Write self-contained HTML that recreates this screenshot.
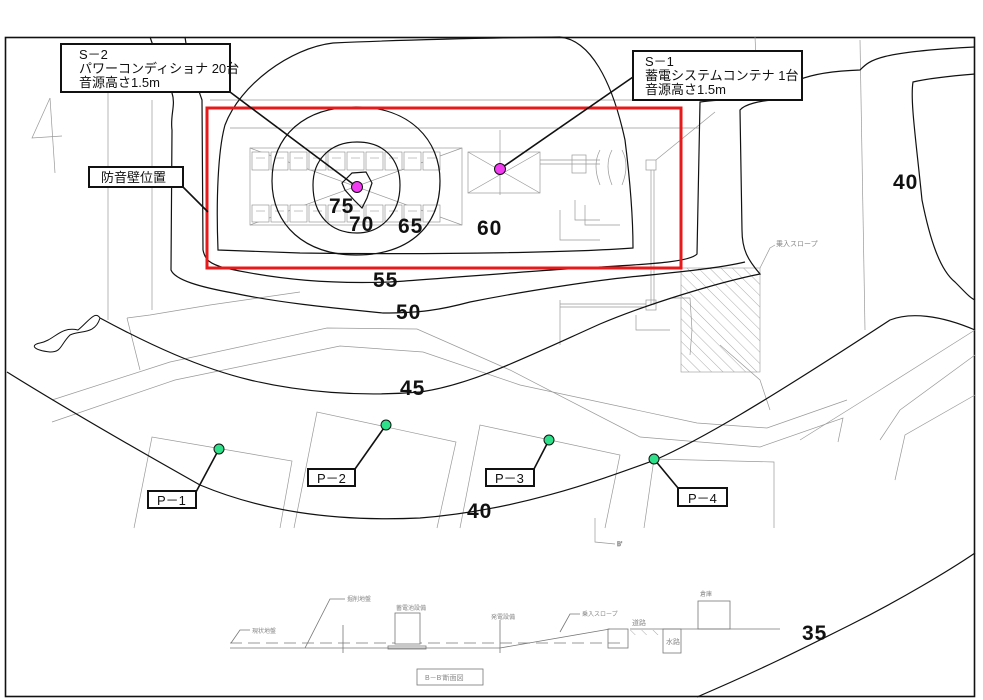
<!DOCTYPE html>
<html><head><meta charset="utf-8"><style>
html,body{margin:0;padding:0;background:#fff;}
svg{display:block;}
.c{fill:none;stroke:#111;stroke-width:1.2;}
.g{fill:none;stroke:#999;stroke-width:0.7;}
.gd{fill:none;stroke:#777;stroke-width:0.8;}
.lb{font-family:"Liberation Sans","Noto Sans CJK JP",sans-serif;font-size:13px;fill:#111;}
.big{font-family:"Liberation Sans",sans-serif;font-weight:bold;font-size:21px;fill:#111;letter-spacing:1px;}
.sm{font-family:"Liberation Sans","Noto Sans CJK JP",sans-serif;font-size:6px;fill:#888;}
</style></head><body>
<svg width="983" height="700" viewBox="0 0 983 700" xmlns="http://www.w3.org/2000/svg">
<rect x="0" y="0" width="983" height="700" fill="#fff"/>
<!-- frame -->
<rect x="5.5" y="37.5" width="969" height="659" fill="none" stroke="#111" stroke-width="1.6"/>

<!-- background CAD gray lines -->
<g class="g">
<line x1="108" y1="93" x2="108" y2="320"/>
<line x1="152" y1="100" x2="152" y2="310"/>
<polyline points="50,98 32,138 62,136"/>
<line x1="50" y1="98" x2="55" y2="173"/>
<polyline points="127,318 140,370"/>
<polyline points="52,400 170,362 327,328 417,329 510,370 640,437 760,447 843,418 838,442"/>
<polyline points="52,422 175,380 340,346 423,352 520,385 697,423 767,428 847,400"/>
<polyline points="127,318 150,315 210,305 300,292"/>
<polyline points="134,528 152,437 292,461 280,528"/>
<polyline points="294,528 317,412 456,442 437,528"/>
<polyline points="460,528 480,425 620,455 605,528"/>
<polyline points="644,528 654,459 774,462 774,528"/>
<polyline points="595,518 595,542 615,544"/>
<text x="617" y="546" class="sm">B'</text>
<line x1="860" y1="40" x2="865" y2="330"/>
<line x1="755" y1="37" x2="758" y2="100"/>
<polyline points="975,330 880,390 800,440"/>
<polyline points="975,355 900,410 880,440"/>
<polyline points="975,395 905,435 895,480"/>
<polyline points="720,345 760,380 770,410"/>
<line x1="210" y1="100" x2="690" y2="100"/>
<line x1="230" y1="128" x2="700" y2="128"/>
<rect x="250" y="148" width="212" height="77"/>
<line x1="250" y1="148" x2="462" y2="225"/>
<line x1="250" y1="225" x2="462" y2="148"/>
<rect x="468" y="152" width="72" height="41"/>
<line x1="468" y1="152" x2="540" y2="193"/>
<line x1="468" y1="193" x2="540" y2="152"/>
<line x1="540" y1="160" x2="600" y2="160"/>
<line x1="540" y1="164" x2="600" y2="164"/>
<rect x="572" y="155" width="14" height="18"/>
<path d="M600,150 q-8,15 0,35 M612,150 q-8,15 0,35 M622,150 q8,15 0,35"/>
<rect x="646" y="160" width="10" height="10"/>
<line x1="651" y1="170" x2="651" y2="305"/>
<line x1="654" y1="170" x2="654" y2="305"/>
<line x1="656" y1="160" x2="715" y2="112"/>
<rect x="646" y="300" width="10" height="10"/>
<line x1="560" y1="307" x2="646" y2="307"/>
<line x1="560" y1="304" x2="646" y2="304"/>
<polyline points="560,300 560,345"/>
<polyline points="636,315 636,330 670,330"/>
<polyline points="672,298 690,298 692,330 690,355"/>
<line x1="500" y1="130" x2="500" y2="195"/>
<polyline points="585,205 585,225 620,225"/>
<polyline points="560,210 560,240 600,240"/>
<polyline points="575,200 575,220 600,220"/>
</g>
<g stroke="#888" stroke-width="0.6" fill="#fff">
<rect x="252" y="152" width="17" height="18"/><rect x="271" y="152" width="17" height="18"/><rect x="290" y="152" width="17" height="18"/><rect x="309" y="152" width="17" height="18"/><rect x="328" y="152" width="17" height="18"/><rect x="347" y="152" width="17" height="18"/><rect x="366" y="152" width="17" height="18"/><rect x="385" y="152" width="17" height="18"/><rect x="404" y="152" width="17" height="18"/><rect x="423" y="152" width="17" height="18"/>
<rect x="252" y="205" width="17" height="17"/><rect x="271" y="205" width="17" height="17"/><rect x="290" y="205" width="17" height="17"/><rect x="309" y="205" width="17" height="17"/><rect x="328" y="205" width="17" height="17"/><rect x="347" y="205" width="17" height="17"/><rect x="366" y="205" width="17" height="17"/><rect x="385" y="205" width="17" height="17"/><rect x="404" y="205" width="17" height="17"/><rect x="423" y="205" width="17" height="17"/>
</g>
<g stroke="#888" stroke-width="0.5">
<line x1="256" y1="158" x2="265" y2="158"/><line x1="275" y1="158" x2="284" y2="158"/><line x1="294" y1="158" x2="303" y2="158"/><line x1="313" y1="158" x2="322" y2="158"/><line x1="332" y1="158" x2="341" y2="158"/><line x1="351" y1="158" x2="360" y2="158"/><line x1="370" y1="158" x2="379" y2="158"/><line x1="389" y1="158" x2="398" y2="158"/><line x1="408" y1="158" x2="417" y2="158"/><line x1="427" y1="158" x2="436" y2="158"/>
<line x1="256" y1="211" x2="265" y2="211"/><line x1="275" y1="211" x2="284" y2="211"/><line x1="294" y1="211" x2="303" y2="211"/><line x1="313" y1="211" x2="322" y2="211"/><line x1="332" y1="211" x2="341" y2="211"/><line x1="351" y1="211" x2="360" y2="211"/><line x1="370" y1="211" x2="379" y2="211"/><line x1="389" y1="211" x2="398" y2="211"/><line x1="408" y1="211" x2="417" y2="211"/><line x1="427" y1="211" x2="436" y2="211"/>
</g>
<!-- hatched slope -->
<defs><pattern id="h" width="8" height="8" patternUnits="userSpaceOnUse" patternTransform="rotate(-45)"><line x1="0" y1="0" x2="0" y2="8" stroke="#888" stroke-width="0.7"/></pattern></defs>
<rect x="681" y="268" width="79" height="104" fill="url(#h)" stroke="#999" stroke-width="0.6"/>
<polyline class="g" points="760,268 770,248 775,245"/>
<text x="776" y="246" class="sm" style="font-size:7px">乗入スロープ</text>

<!-- blob top-left -->
<path class="c" d="M100,318 C95,310 88,322 78,330 C60,326 55,340 40,343 C30,345 33,350 50,352 C62,352 60,345 70,335 C80,330 95,335 100,318" style="stroke-width:1"/>

<!-- contours -->
<path class="c" d="M342,183 L352,173 L366,172 L372,183 L367,198 L362,208 L354,200 L345,190 Z"/>
<path class="c" d="M357,142 C385,142 400,160 400,185 C400,215 380,233 357,233 C330,233 313,215 313,185 C313,160 330,142 357,142 Z"/>
<path class="c" d="M356,107 C410,107 440,140 440,181 C440,230 405,255 356,255 C305,255 272,225 272,181 C272,135 305,107 356,107 Z"/>
<path class="c" d="M560,37 C590,40 612,80 625,140 C630,180 633,220 633,248 C580,252 450,255 300,253 L218,250 C216,200 218,150 225,125 C240,85 290,48 333,43 C400,40 480,38 560,37"/>
<path class="c" d="M185,37 C188,60 195,80 202,100 L203,250 C205,260 210,264 225,268 C280,280 330,284 390,282 C450,278 540,270 600,267 C650,264 690,262 697,254 L700,102 C720,99 760,99 775,98 C785,85 800,72 860,70 C870,60 877,52 975,47"/>
<path class="c" d="M150,37 C158,60 165,80 172,93 C176,105 170,115 172,130 L171,270 C175,280 200,287 233,293 C280,303 333,308 383,313 C420,313 440,310 470,302 C530,290 600,280 630,277 C680,272 720,268 745,262"/>
<path class="c" d="M100,318 C150,345 200,368 250,380 C300,392 360,397 420,392 C470,385 520,360 600,324 C650,303 720,282 760,274 C748,260 742,250 742,230 L740,110 C745,104 760,101 773,100"/>
<path class="c" d="M975,74 C950,76 930,78 913,82 C910,100 916,140 922,200 C930,240 940,270 955,282 C965,292 970,298 975,300"/>
<path class="c" d="M7,372 C60,405 120,440 200,485 C260,510 330,522 420,518 C520,510 600,480 655,460 C700,440 760,405 890,320 C910,312 940,315 975,330"/>
<path class="c" d="M697,697 C760,670 800,650 850,625 C900,600 950,570 975,553"/>

<!-- red wall -->
<rect x="207" y="108" width="474" height="160" fill="none" stroke="#e8191a" stroke-width="3"/>
<line x1="207" y1="108" x2="681" y2="108" stroke="#e8191a" stroke-width="1"/>

<!-- contour labels -->
<text x="329" y="213" class="big">75</text>
<text x="349" y="231" class="big">70</text>
<text x="398" y="233" class="big">65</text>
<text x="477" y="235" class="big">60</text>
<text x="373" y="287" class="big">55</text>
<text x="396" y="319" class="big">50</text>
<text x="400" y="395" class="big">45</text>
<text x="467" y="518" class="big">40</text>
<text x="893" y="189" class="big">40</text>
<text x="802" y="640" class="big">35</text>

<!-- leaders -->
<g stroke="#111" stroke-width="1.6" fill="none">
<line x1="230" y1="92" x2="357" y2="187"/>
<line x1="633" y1="77" x2="500" y2="169"/>
<line x1="183" y1="187" x2="208" y2="212"/>
<line x1="196" y1="492" x2="219" y2="449"/>
<line x1="355" y1="469" x2="386" y2="425"/>
<line x1="534" y1="469" x2="549" y2="440"/>
<line x1="678" y1="488" x2="654" y2="459"/>
</g>
<circle cx="357" cy="187" r="5.5" fill="#f23cf2" stroke="#111" stroke-width="1"/>
<circle cx="500" cy="169" r="5.5" fill="#f23cf2" stroke="#111" stroke-width="1"/>
<g fill="#2ee08a" stroke="#111" stroke-width="1">
<circle cx="219" cy="449" r="5"/><circle cx="386" cy="425" r="5"/><circle cx="549" cy="440" r="5"/><circle cx="654" cy="459" r="5"/>
</g>

<!-- label boxes -->
<g fill="#fff" stroke="#111" stroke-width="2">
<rect x="61" y="44" width="169" height="48"/>
<rect x="89" y="167" width="94" height="20"/>
<rect x="633" y="51" width="169" height="49"/>
<rect x="148" y="491" width="48" height="17"/>
<rect x="308" y="469" width="47" height="17"/>
<rect x="486" y="469" width="48" height="17"/>
<rect x="678" y="488" width="49" height="18"/>
</g>
<text class="lb" x="79" y="59">S－2</text>
<text class="lb" x="79" y="73">パワーコンディショナ  20台</text>
<text class="lb" x="79" y="87">音源高さ1.5m</text>
<text class="lb" x="101" y="182">防音壁位置</text>
<text class="lb" x="645" y="66">S－1</text>
<text class="lb" x="645" y="80">蓄電システムコンテナ  1台</text>
<text class="lb" x="645" y="94">音源高さ1.5m</text>
<text class="lb" x="157" y="505">P－1</text>
<text class="lb" x="317" y="483">P－2</text>
<text class="lb" x="495" y="483">P－3</text>
<text class="lb" x="688" y="503">P－4</text>

<!-- section B-B' -->
<g class="gd">
<line x1="230" y1="643" x2="620" y2="643" stroke-dasharray="12,6"/>
<line x1="230" y1="648" x2="500" y2="648"/>
<rect x="395" y="613" width="25" height="31" fill="#fff"/>
<rect x="388" y="646" width="38" height="3"/>
<line x1="343" y1="625" x2="343" y2="653"/>
<line x1="500" y1="620" x2="500" y2="653"/>
<polyline points="500,648 610,629"/>
<polyline points="305,648 330,599 345,599"/>
<polyline points="231,643 240,630 250,630"/>
<polyline points="560,632 570,614 580,614"/>
<rect x="608" y="629" width="20" height="19"/>
<line x1="630" y1="629" x2="780" y2="629"/>
<rect x="663" y="629" width="18" height="24"/>
<rect x="698" y="601" width="32" height="28"/>
<rect x="417" y="669" width="66" height="16"/>
</g>
<rect x="630" y="630" width="30" height="5" fill="url(#h)"/>
<text class="sm" x="347" y="601">掘削地盤</text>
<text class="sm" x="252" y="633">現状地盤</text>
<text class="sm" x="396" y="610">蓄電池設備</text>
<text class="sm" x="491" y="619">発電設備</text>
<text class="sm" x="582" y="616">乗入スロープ</text>
<text class="sm" x="632" y="625" style="font-size:7px">道路</text>
<text class="sm" x="666" y="644" style="font-size:7px">水路</text>
<text class="sm" x="700" y="596">倉庫</text>
<text class="sm" x="425" y="680" style="font-size:7px">B－B'断面図</text>
</svg>
</body></html>
